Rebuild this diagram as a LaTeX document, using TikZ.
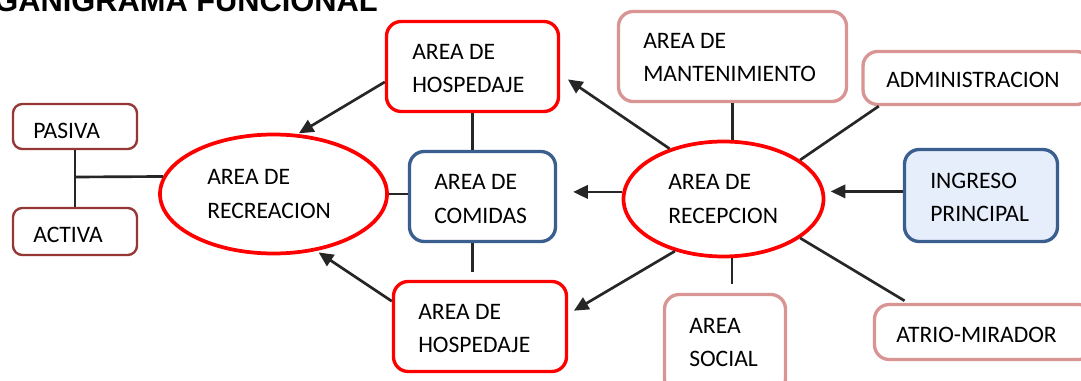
\documentclass[tikz,border=0pt]{standalone}
\usepackage{fontspec}
\setmainfont{Carlito}
\newfontfamily\titlefont{Liberation Sans}
\usetikzlibrary{shapes.geometric,arrows.meta}
\definecolor{lnc}{HTML}{262626}
\definecolor{pk}{HTML}{D99594}
\definecolor{bl}{HTML}{3A5F8F}
\definecolor{blf}{HTML}{E6EEFC}
\definecolor{brn}{HTML}{953735}
\tikzset{
  ln/.style={draw=lnc, line width=2pt},
  arr/.style={ln, -{Triangle[length=11pt,width=10pt]}},
  boxbase/.style={rectangle, rounded corners=11pt, fill=white, inner sep=0pt, line width=2.5pt},
  rbox/.style={boxbase, draw=red},
  pbox/.style={boxbase, draw=pk},
  bbox/.style={boxbase, draw=bl},
  brbox/.style={boxbase, draw=brn, line width=1.8pt, rounded corners=7pt},
  ell/.style={ellipse, draw=red, line width=2.8pt, fill=white, inner sep=0pt},
  txt/.style={align=left, inner sep=0pt, anchor=west, font=\fontsize{17.7pt}{25pt}\selectfont},
}
\begin{document}
\begin{tikzpicture}[x=0.75pt,y=-0.75pt]
\useasboundingbox (0,0) rectangle (1081,381);
\clip (0,0) rectangle (1081,381);
\fill[white] (0,0) rectangle (1081,381);

% title
\node[inner sep=0pt, anchor=base east, font=\titlefont\bfseries\fontsize{23.1pt}{26pt}\selectfont] (title) at (378,12) {GANIGRAMA FUNCIONAL};

% shapes
\node[brbox, minimum width=93pt, minimum height=33.75pt] (pas) at (75,126.5) {};
\node[brbox, minimum width=93pt, minimum height=35.25pt] (act) at (75,231.5) {};
\node[rbox, minimum width=129pt, minimum height=67.5pt] (ht) at (472.5,66.5) {};
\node[pbox, minimum width=171pt, minimum height=67.5pt] (mant) at (732.5,56.5) {};
\node[pbox, minimum width=171pt, minimum height=39.75pt] (adm) at (977,78) {};
\node[bbox, minimum width=109.5pt, minimum height=67.5pt] (com) at (482.5,196.5) {};
\node[bbox, fill=blf, minimum width=114.75pt, minimum height=69pt] (ing) at (981,195.5) {};
\node[rbox, minimum width=129.75pt, minimum height=67.5pt] (hb) at (480,326.5) {};
\node[pbox, minimum width=90.75pt, minimum height=74.25pt] (soc) at (725,344) {};
\node[pbox, minimum width=164.25pt, minimum height=41.25pt] (atr) at (984,332) {};
\node[ell, minimum width=170.25pt, minimum height=89.25pt] (rec) at (273.5,194) {};
\node[ell, minimum width=150pt, minimum height=86.25pt] (rcp) at (723.5,199) {};

% texts
\node[txt] (past) at (33,130.5) {PASIVA};
\node[txt] (actt) at (33,235) {ACTIVA};
\node[txt] (htt) at (412,68.5) {AREA DE\\HOSPEDAJE};
\node[txt] (mantt) at (643,57.5) {AREA DE\\MANTENIMIENTO};
\node[txt] (admt) at (886,80) {ADMINISTRACION};
\node[txt] (rect) at (207,194) {AREA DE\\RECREACION};
\node[txt] (comt) at (434,199) {AREA DE\\COMIDAS};
\node[txt] (rcpt) at (668,199) {AREA DE\\RECEPCION};
\node[txt] (ingt) at (930,197.5) {INGRESO\\PRINCIPAL};
\node[txt] (hbt) at (418,328.5) {AREA DE\\HOSPEDAJE};
\node[txt] (soct) at (689,342.5) {AREA\\SOCIAL};
\node[txt] (atrt) at (896,334.5) {ATRIO-MIRADOR};

% connectors
\coordinate (jn) at (75,177);
\draw[ln] (pas.south) -- (act.north);
\draw[ln] (jn) -- (rec.171);
\draw[ln] (rec.east) -- (rec.east -| com.west);
\draw[ln] (ht.south) -- (ht.south |- com.north);
\coordinate (cb) at (472.5,272);
\draw[ln] (cb |- com.south) -- (cb);
\draw[arr, shorten >=1pt] (ht.190.7) -- (rec.68.7);
\draw[arr, shorten >=2pt] (hb.164.8) -- (rec.-53.6);
\draw[arr, shorten >=7pt] (rcp.137.5) -- (ht.-5.7);
\draw[arr, shorten >=5pt] (rcp.227.9) -- (hb.8.9);
\draw[arr, shorten >=12pt] (rcp.176) -- (rcp.176 -| com.east);
\draw[arr, shorten >=4pt] (ing.177.4) -- (ing.177.4 -| rcp.east);
\draw[ln] (mant.south) -- (mant.south |- rcp.north);
\draw[ln] (rcp.27) -- (adm.196.2);
\coordinate (sx) at (732,284);
\draw[ln] (sx |- rcp.south) -- (sx);
\draw[ln, shorten >=3pt] (rcp.-27) -- (atr.159.1);
\end{tikzpicture}
\end{document}
